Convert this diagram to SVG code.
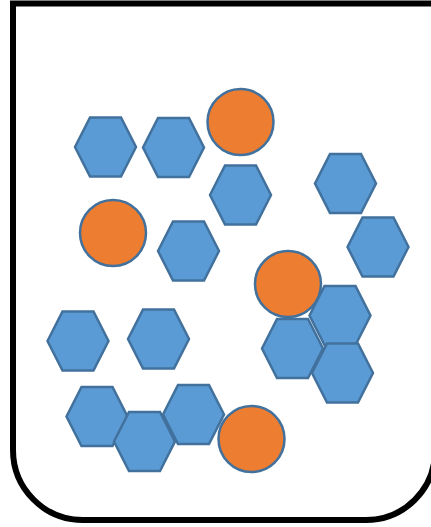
<svg xmlns="http://www.w3.org/2000/svg" width="431" height="527" viewBox="0 0 431 527">
<style>
.hex{fill:#5B9BD5;stroke:#41719C;stroke-width:2.5;stroke-linejoin:miter}
.ball{fill:#ED7D31;stroke:#41719C;stroke-width:2.5}
.box{fill:#FFFFFF;stroke:#000000;stroke-width:6}
</style>
<defs>
<polygon id="hx" points="-30.5,0 -15.5,-29.5 15.5,-29.5 30.5,0 15.5,29.5 -15.5,29.5"/>
</defs>
<rect width="431" height="527" fill="#FFFFFF"/>
<g id="container">
<path class="box" d="M13,3.5 H435 V451 A69,69 0 0 1 366,520 H83 A70,70 0 0 1 13,450 Z"/>
</g>
<g id="connectors"></g>
<g id="h1"><use href="#hx" class="hex" x="105.5" y="147"/></g>
<g id="h2"><use href="#hx" class="hex" x="173.5" y="147.5"/></g>
<g id="c1"><circle class="ball" cx="240.5" cy="122" r="33"/></g>
<g id="h3"><use href="#hx" class="hex" x="240.5" y="195"/></g>
<g id="c2"><circle class="ball" cx="113" cy="233" r="33"/></g>
<g id="h4"><use href="#hx" class="hex" x="188.5" y="251"/></g>
<g id="h5"><use href="#hx" class="hex" x="345.5" y="183.5"/></g>
<g id="h6"><use href="#hx" class="hex" x="378" y="247"/></g>
<g id="c3"><circle class="ball" cx="288" cy="284" r="33"/></g>
<g id="h8"><use href="#hx" class="hex" x="292.5" y="348.5"/></g>
<g id="h7"><use href="#hx" class="hex" x="340" y="315.5"/></g>
<g id="h9"><use href="#hx" class="hex" x="342.5" y="373"/></g>
<g id="h10"><use href="#hx" class="hex" x="78" y="341"/></g>
<g id="h11"><use href="#hx" class="hex" x="158.5" y="339"/></g>
<g id="h12"><use href="#hx" class="hex" x="97" y="416.5"/></g>
<g id="h13"><use href="#hx" class="hex" x="144.5" y="441.5"/></g>
<g id="h14"><use href="#hx" class="hex" x="193.5" y="414.5"/></g>
<g id="c4"><circle class="ball" cx="251.5" cy="439" r="33"/></g>
</svg>
